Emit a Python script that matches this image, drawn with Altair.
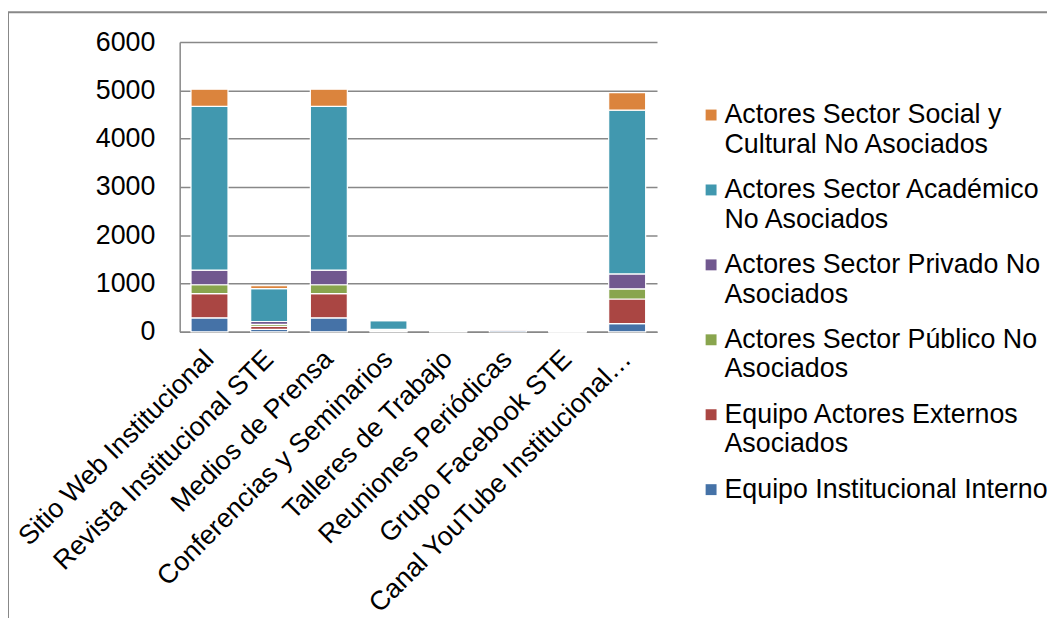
import altair as alt
import pandas as pd

categories = ["Sitio Web Institucional", "Revista Institucional STE", "Medios de Prensa",
              "Conferencias y Seminarios", "Talleres de Trabajo", "Reuniones Periódicas",
              "Grupo Facebook STE", "Canal YouTube Institucional…"]

# stack order bottom -> top
series_names = ["Equipo Institucional Interno", "Equipo Actores Externos Asociados",
                "Actores Sector Público No Asociados", "Actores Sector Privado No Asociados",
                "Actores Sector Académico No Asociados", "Actores Sector Social y Cultural No Asociados"]
interno = [290, 50, 290, 20, 5, 35, 2, 170]
externos = [500, 65, 500, 15, 25, 10, 1, 510]
publico = [185, 40, 185, 5, 2, 5, 1, 210]
privado = [305, 60, 305, 10, 2, 15, 1, 310]
academico = [3390, 680, 3390, 180, 2, 5, 1, 3390]
social = [355, 60, 355, 10, 2, 5, 1, 365]
series_values = [interno, externos, publico, privado, academico, social]

colors = ["#4572A7", "#AA4643", "#89A54E", "#71588F", "#4198AF", "#DB843D"]

legend_lines = {
    "Actores Sector Social y Cultural No Asociados": ["Actores Sector Social y", "Cultural No Asociados"],
    "Actores Sector Académico No Asociados": ["Actores Sector Académico", "No Asociados"],
    "Actores Sector Privado No Asociados": ["Actores Sector Privado No", "Asociados"],
    "Actores Sector Público No Asociados": ["Actores Sector Público No", "Asociados"],
    "Equipo Actores Externos Asociados": ["Equipo Actores Externos", "Asociados"],
    "Equipo Institucional Interno": ["Equipo Institucional Interno"],
}

rows = []
for si, (name, vals) in enumerate(zip(series_names, series_values)):
    for c, v in zip(categories, vals):
        rows.append({"cat": c, "series": name, "value": v, "ord": si})
df = pd.DataFrame(rows)

legend_domain = list(reversed(series_names))
legend_range = list(reversed(colors))

expr = "datum.label"
for k, v in legend_lines.items():
    arr = "[" + ",".join("'" + s + "'" for s in v) + "]"
    expr = f"datum.label == '{k}' ? {arr} : ({expr})"

FONT = "Liberation Sans"
FS = 27

bars = alt.Chart(df).mark_bar(stroke="white", strokeWidth=1.2).encode(
    x=alt.X("cat:N", sort=categories, title=None,
            scale=alt.Scale(paddingInner=0.38, paddingOuter=0.19),
            axis=alt.Axis(labelAngle=-45, labelAlign="right", labelBaseline="middle",
                          labelFontSize=FS, labelPadding=23, ticks=False,
                          domainColor="#888888", domainWidth=1.5, labelColor="black",
                          labelFont=FONT, labelLimit=500)),
    y=alt.Y("value:Q", stack="zero", title=None,
            scale=alt.Scale(domain=[0, 6000]),
            axis=alt.Axis(values=[0, 1000, 2000, 3000, 4000, 5000, 6000], ticks=False,
                          format="d",
                          labelFontSize=FS, labelPadding=25, labelColor="black",
                          labelFont=FONT, domainColor="#888888", domainWidth=1.5,
                          gridColor="#888888", gridWidth=1.5)),
    color=alt.Color("series:N",
                    scale=alt.Scale(domain=legend_domain, range=legend_range),
                    legend=alt.Legend(title=None, orient="none", legendX=522, legendY=60,
                                      symbolType="square", symbolSize=121,
                                      symbolStrokeWidth=0, labelFontSize=FS,
                                      labelFont=FONT, labelColor="black",
                                      labelOffset=0, labelLimit=600, rowPadding=17.5,
                                      labelExpr=expr)),
    order=alt.Order("ord:Q"),
)

frame = pd.DataFrame({"a": [0]})
left_line = alt.Chart(frame).mark_rule(color="#888888", strokeWidth=2).encode(
    x=alt.value(-173), y=alt.value(-30), y2=alt.value(620))
top_line = alt.Chart(frame).mark_rule(color="#888888", strokeWidth=2).encode(
    x=alt.value(-173), x2=alt.value(900), y=alt.value(-30))

chart = alt.layer(bars, left_line, top_line).properties(
    width=481, height=292,
    autosize=alt.AutoSizeParams(type="none"),
    padding={"left": 173, "top": 32, "right": 393, "bottom": 286},
).configure(font=FONT, style={"guide-label": {"lineHeight": 30}}).configure_view(strokeWidth=0)

chart.save("out.html", embed_options={"renderer": "svg", "actions": False})
